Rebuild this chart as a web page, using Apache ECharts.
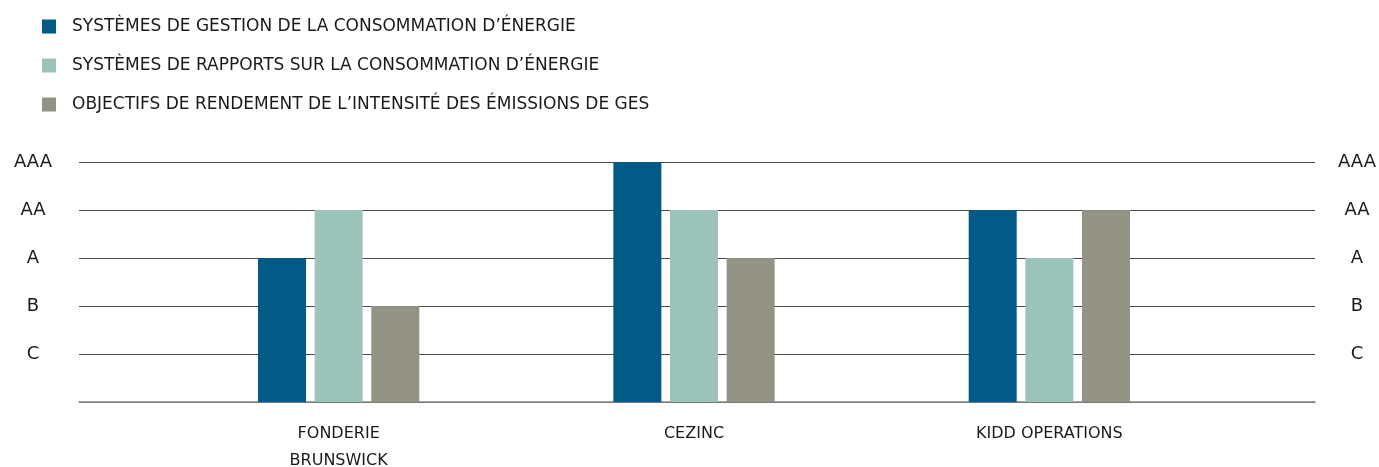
<!DOCTYPE html>
<html>
<head>
<meta charset="utf-8">
<script src="https://cdn.jsdelivr.net/npm/echarts@6/dist/echarts.min.js"></script>
<style>
  html, body { margin: 0; padding: 0; background: #fff; }
  #chart { width: 1379px; height: 467px; }
</style>
</head>
<body>
<div id="chart"></div>
<script>
// ratings are coded 1..5 (C .. AAA)
const categories = ['FONDERIE\nBRUNSWICK', 'CEZINC', 'KIDD OPERATIONS']
const ratingLabels = ['', 'C', 'B', 'A', 'AA', 'AAA']
const seriesNames = [
    'SYSTÈMES DE GESTION DE LA CONSOMMATION D’ÉNERGIE',
    'SYSTÈMES DE RAPPORTS SUR LA CONSOMMATION D’ÉNERGIE',
    'OBJECTIFS DE RENDEMENT DE L’INTENSITÉ DES ÉMISSIONS DE GES'
]
const gestion = [3, 5, 4]
const rapports = [4, 4, 3]
const objectifs = [2, 3, 4]
const colors = ['#025a87', '#9cc3ba', '#939383']

const font = '"DejaVu Sans", "Open Sans", sans-serif'
const chart = echarts.init(document.getElementById('chart'))

const ratingAxis = (grid, pos, show, margin) => ({
    type: 'value',
    gridIndex: grid,
    position: pos,
    min: 0,
    max: 5,
    interval: 1,
    axisLine: { show: false },
    axisTick: { show: false },
    splitLine: { show: show, lineStyle: { color: '#4a4a4a', width: 1.2 } },
    axisLabel: {
        show: show,
        margin: margin,
        align: 'center',
        color: '#1a1a1a',
        fontFamily: font,
        fontSize: 18,
        formatter: v => ratingLabels[v]
    }
})

const makeSeries = (name, data, i) => ({
    name: name,
    type: 'bar',
    xAxisIndex: 1,
    yAxisIndex: 2,
    data: data,
    barWidth: 48,
    barGap: '18%',
    itemStyle: { color: colors[i] }
})

chart.setOption({
    animation: false,
    color: colors,
    legend: {
        orient: 'vertical',
        left: 37,
        top: 13,
        itemWidth: 14,
        itemHeight: 14,
        itemGap: 22,
        icon: 'rect',
        textStyle: {
            color: '#1a1a1a',
            fontFamily: font,
            fontSize: 17,
            padding: [0, 0, 0, 11]
        },
        data: seriesNames
    },
    grid: [
        { left: 79, right: 64, top: 162, bottom: 65, outerBoundsMode: 'none' },
        { left: 161, right: 152, top: 162, bottom: 65, outerBoundsMode: 'none' }
    ],
    xAxis: [
        {
            type: 'category',
            gridIndex: 0,
            data: categories,
            axisLine: { lineStyle: { color: '#8a8a8a', width: 1.5 } },
            axisTick: { show: false },
            axisLabel: { show: false }
        },
        {
            type: 'category',
            gridIndex: 1,
            data: categories,
            axisLine: { show: false },
            axisTick: { show: false },
            axisLabel: {
                margin: 18,
                color: '#1a1a1a',
                fontFamily: font,
                fontSize: 16,
                lineHeight: 27
            }
        }
    ],
    yAxis: [
        ratingAxis(0, 'left', true, 46),
        ratingAxis(0, 'right', true, 42),
        ratingAxis(1, 'left', false, 0)
    ],
    series: [
        makeSeries(seriesNames[0], gestion, 0),
        makeSeries(seriesNames[1], rapports, 1),
        makeSeries(seriesNames[2], objectifs, 2)
    ]
})
</script>
</body>
</html>
